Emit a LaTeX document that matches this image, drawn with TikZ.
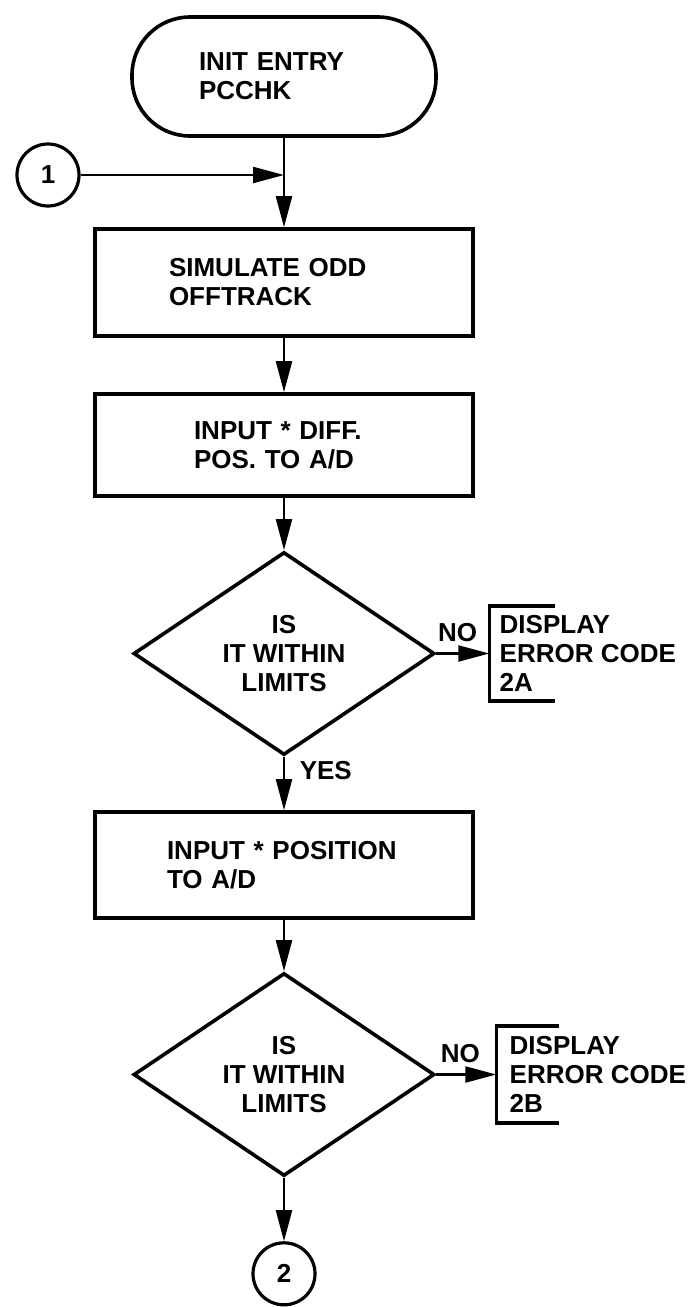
\documentclass[tikz,border=0pt]{standalone}
\usepackage{fontspec}
\setmainfont{Liberation Sans}
\usepackage{tikz}
\usetikzlibrary{positioning,arrows.meta,shapes.geometric}
\newcommand{\chartfont}{\bfseries\fontsize{13}{14.5}\selectfont}
\tikzset{
  node-term/.style={draw,line width=1.8pt,rectangle,rounded corners=29pt,
    minimum width=152pt,minimum height=59.5pt,align=left,font=\chartfont},
  node-box/.style={draw,line width=1.8pt,rectangle,
    minimum width=189pt,minimum height=53pt,align=left,font=\chartfont},
  node-test/.style={draw,line width=1.8pt,diamond,inner sep=0pt,
    minimum width=150.5pt,minimum height=101.5pt,align=center,font=\chartfont},
  node-conn/.style={draw,line width=1.6pt,circle,inner sep=0pt,
    minimum size=31pt,font=\chartfont},
  node-note/.style={align=left,inner xsep=5pt,minimum height=47pt,
    font=\chartfont},
  arrow/.style={-{Triangle[length=15.5pt,width=8pt]},line width=1.1pt},
  bracket-line/.style={line width=1.8pt},
}

\begin{document}
\begin{tikzpicture}[node distance=26.5pt and 27pt]
  \path[use as bounding box,fill=white] (0,0) rectangle (346pt,-653.5pt);
  % main column
  \node[node-term,text width=85pt] (t1) at (142pt,-38.25pt) {INIT ENTRY\\PCCHK};
  \node[node-box,below=44.7pt of t1,minimum height=53.5pt,text width=115pt] (b1) {SIMULATE ODD\\OFFTRACK};
  \node[node-box,below=27.2pt of b1,minimum height=51pt,text width=90pt] (b2) {INPUT * DIFF.\\POS. TO A/D};
  \node[node-test,below=26.2pt of b2] (d1) {IS\\IT WITHIN\\LIMITS};
  \node[node-box,below=26.7pt of d1,text width=117pt] (b3) {INPUT * POSITION\\TO A/D};
  \node[node-test,below=25.7pt of b3] (d2) {IS\\IT WITHIN\\LIMITS};
  \node[node-conn,below=31.7pt of d2] (c2) {2};
  % entry connector and error exits
  \node[node-conn] (c1) at (24pt,-87.5pt) {1};
  \node[node-note,right=26.5pt of d1] (e1) {DISPLAY\\ERROR CODE\\2A};
  \node[node-note,right=30pt of d2,inner xsep=6.5pt,minimum height=48pt] (e2) {DISPLAY\\ERROR CODE\\2B};
  \draw[bracket-line] ([xshift=33pt]e1.north west) -- (e1.north west)
    -- (e1.south west) -- ([xshift=33pt]e1.south west);
  \draw[bracket-line] ([xshift=31.5pt]e2.north west) -- (e2.north west)
    -- (e2.south west) -- ([xshift=31.5pt]e2.south west);
  \draw[arrow] (t1) -- (b1);
  \draw[arrow] (c1) -- (c1 -| t1);
  \draw[arrow] (b1) -- (b2);
  \draw[arrow] (b2) -- (d1);
  \draw[arrow] (d1) -- node[right=4pt,pos=0.25,font=\chartfont] {YES} (b3);
  \draw[arrow] (b3) -- (d2);
  \draw[arrow] (d2) -- (c2);
  \draw[arrow] (d1.east) -- node[above=2pt,pos=0.4,font=\chartfont] {NO} (e1.west);
  \draw[arrow] (d2.east) -- node[above=2pt,pos=0.4,font=\chartfont] {NO} (e2.west);
\end{tikzpicture}
\end{document}
